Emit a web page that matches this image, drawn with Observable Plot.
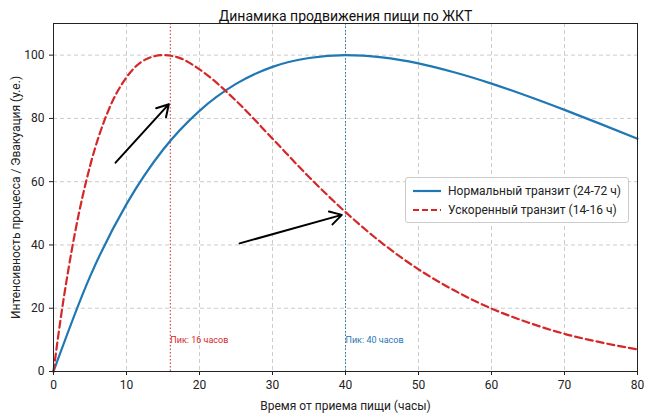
<!DOCTYPE html>
<html><head><meta charset="utf-8">
<script src="https://cdn.jsdelivr.net/npm/d3@7"></script>
<script src="https://cdn.jsdelivr.net/npm/@observablehq/plot@0.6"></script>
<style>
body{margin:0;background:#fff;font-family:Roboto,"Noto Sans",sans-serif}
#wrap{position:relative;width:651px;height:416px}
#legend{position:absolute;left:405px;top:177px;width:222px;padding:3px 0;border:1px solid #ccc;border-radius:3px;background:rgba(255,255,255,0.9);font-size:12px;color:#222;white-space:nowrap}
.row{display:flex;align-items:center;height:19px}
.row svg{margin:0 7px 0 7px;flex:none}
</style></head><body>
<div id="wrap"><div id="chart"></div>
<div id="legend">
<div class="row"><svg width="28" height="4"><line x1="0" y1="2" x2="28" y2="2" stroke="#1f77b4" stroke-width="2.2"/></svg>Нормальный транзит (24-72 ч)</div>
<div class="row"><svg width="28" height="4"><line x1="0" y1="2" x2="28" y2="2" stroke="#d62728" stroke-width="2.2" stroke-dasharray="6,3"/></svg>Ускоренный транзит (14-16 ч)</div>
</div></div>
<script>
const normalT = [0,5,10,15,20,25,30,35,40,45,50,55,60,65,70,75,80];
const normalV = [0,30.0,52.9,70.1,82.4,90.9,96.3,99.1,100,99.3,97.4,94.5,91.0,87.0,82.7,78.2,73.6];
const fastT = [0,1,2,3,5,7.5,10,12.5,15,17.5,20,25,30,35,40,45,50,55,60,65,70,75,80];
const fastV = [0,17.0,31.7,44.5,64.9,82.4,93.0,98.5,100,98.9,95.5,85.6,73.6,61.5,50.4,40.6,32.3,25.5,19.9,15.5,11.9,9.2,7.0];
const peaks = [{x:16,label:"Пик: 16 часов",c:"#d62728"},{x:40,label:"Пик: 40 часов",c:"#1f77b4"}];
const arrows = [{x1:8.5,y1:66,x2:15.8,y2:84.5},{x1:25.5,y1:40.5,x2:39.5,y2:49.5}];
const normal = normalT.map((t,i)=>({t,v:normalV[i]}));
const fast = fastT.map((t,i)=>({t,v:fastV[i]}));
const chart = Plot.plot({
  width:651,height:416,marginLeft:53,marginRight:14,marginTop:23,marginBottom:45,
  style:{fontFamily:"Roboto, sans-serif",fontSize:"12px",color:"#222"},
  x:{domain:[0,80]},
  y:{domain:[0,110]},
  marks:[
    Plot.gridX(d3.range(0,81,10),{stroke:"#ccc",strokeOpacity:1,strokeDasharray:"4,3"}),
    Plot.gridY(d3.range(0,101,20),{stroke:"#ccc",strokeOpacity:1,strokeDasharray:"4,3"}),
    Plot.ruleX(peaks,{x:"x",stroke:"c",strokeDasharray:"1.5,2",strokeWidth:1}),
    Plot.text(peaks,{x:"x",y:10,text:"label",fill:"c",textAnchor:"start",fontSize:9}),
    Plot.line(normal,{x:"t",y:"v",stroke:"#1f77b4",strokeWidth:2.2,curve:"monotone-x"}),
    Plot.line(fast,{x:"t",y:"v",stroke:"#d62728",strokeWidth:2.2,strokeDasharray:"7,4",curve:"monotone-x"}),
    Plot.arrow(arrows,{x1:"x1",y1:"y1",x2:"x2",y2:"y2",stroke:"black",strokeWidth:2,headLength:10}),
    Plot.frame({stroke:"#222"}),
    Plot.axisX({ticks:d3.range(0,81,10),tickSize:4,label:"Время от приема пищи (часы)",labelAnchor:"center",labelArrow:false,labelOffset:38}),
    Plot.axisY({ticks:d3.range(0,101,20),tickSize:4,label:"Интенсивность процесса / Эвакуация (у.е.)",labelAnchor:"center",labelArrow:false,labelOffset:42}),
    Plot.text(["Динамика продвижения пищи по ЖКТ"],{frameAnchor:"top",dy:-12,fontSize:14,fill:"#111"})
  ]
});
document.getElementById("chart").append(chart);
</script></body></html>
